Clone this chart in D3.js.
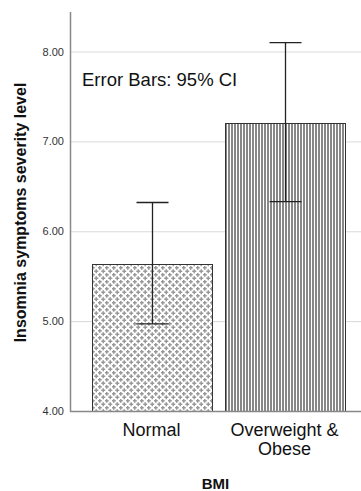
<!DOCTYPE html>
<html>
<head>
<meta charset="utf-8">
<script src="https://cdn.jsdelivr.net/npm/d3@7"></script>
<style>
  body { margin: 0; background: #fff; }
  svg { display: block; font-family: "Liberation Sans", Arial, sans-serif; }
</style>
</head>
<body>
<svg id="chart" width="361" height="491"></svg>
<script>
const categories = ['Normal', 'Overweight & Obese'];
const means = [5.64, 7.21];
const ciLow = [4.97, 6.33];
const ciHigh = [6.32, 8.10];
const yTicks = [4, 5, 6, 7, 8];

const svg = d3.select('#chart');
const margin = { top: 12, right: 0, bottom: 80, left: 70 };
const width = +svg.attr('width');
const height = +svg.attr('height');

const y = d3.scaleLinear()
  .domain([4, 8.44])
  .range([height - margin.bottom, margin.top]);

const x = d3.scaleBand()
  .domain(categories)
  .range([85, 351])
  .paddingInner(0.1)
  .paddingOuter(0.05);

// patterns
const defs = svg.append('defs');
const dots = defs.append('pattern')
  .attr('id', 'cross')
  .attr('patternUnits', 'userSpaceOnUse')
  .attr('width', 7).attr('height', 7);
dots.append('rect').attr('width', 7).attr('height', 7).attr('fill', '#fff');
// crosses, drawn with wrap-around copies so the tile repeats cleanly
[[1.75, 1.75], [5.25, 5.25], [5.25 - 7, 5.25], [5.25, 5.25 - 7], [5.25 - 7, 5.25 - 7]].forEach(([cx, cy]) => {
  dots.append('rect').attr('x', cx - 2).attr('y', cy - 0.75).attr('width', 4).attr('height', 1.5).attr('fill', '#999');
  dots.append('rect').attr('x', cx - 0.75).attr('y', cy - 2).attr('width', 1.5).attr('height', 4).attr('fill', '#999');
});
const stripes = defs.append('pattern')
  .attr('id', 'stripes')
  .attr('patternUnits', 'userSpaceOnUse')
  .attr('width', 3).attr('height', 3);
stripes.append('rect').attr('width', 3).attr('height', 3).attr('fill', '#fff');
stripes.append('rect').attr('width', 2).attr('height', 3).attr('fill', '#888');

// gridlines
svg.append('g')
  .selectAll('line')
  .data(yTicks.slice(1))
  .join('line')
    .attr('x1', margin.left).attr('x2', width)
    .attr('y1', d => y(d) + 0.5).attr('y2', d => y(d) + 0.5)
    .attr('stroke', '#d9d9d9');

// y tick labels
svg.append('g')
  .selectAll('text')
  .data(yTicks)
  .join('text')
    .attr('x', 64)
    .attr('y', d => y(d) + 4)
    .attr('text-anchor', 'end')
    .attr('font-size', 11)
    .attr('fill', '#333')
    .text(d => d3.format('.2f')(d));

// bars
svg.append('g')
  .selectAll('rect')
  .data(categories)
  .join('rect')
    .attr('x', d => Math.round(x(d)) + 0.5)
    .attr('y', (d, i) => Math.round(y(means[i])) + 0.5)
    .attr('width', Math.round(x.bandwidth()))
    .attr('height', (d, i) => Math.round(y(4)) - Math.round(y(means[i])))
    .attr('fill', (d, i) => i === 0 ? 'url(#cross)' : 'url(#stripes)')
    .attr('stroke', '#333')
    .attr('stroke-width', 1);

// axes lines
svg.append('line')
  .attr('x1', margin.left + 0.5).attr('x2', margin.left + 0.5)
  .attr('y1', margin.top).attr('y2', y(4) + 0.5)
  .attr('stroke', '#888').attr('stroke-width', 1.5);
svg.append('line')
  .attr('x1', margin.left).attr('x2', width)
  .attr('y1', y(4) + 0.5).attr('y2', y(4) + 0.5)
  .attr('stroke', '#888').attr('stroke-width', 1.5);

// error bars
const eb = svg.append('g').attr('stroke', '#222').attr('stroke-width', 1.3);
categories.forEach((c, i) => {
  const cx = Math.round(x(c) + x.bandwidth() / 2) + 0.5;
  eb.append('line').attr('x1', cx).attr('x2', cx).attr('y1', y(ciLow[i])).attr('y2', y(ciHigh[i]));
  [ciLow[i], ciHigh[i]].forEach(v => {
    eb.append('line').attr('x1', cx - 16).attr('x2', cx + 16).attr('y1', y(v)).attr('y2', y(v));
  });
});

// x tick labels
const xl = svg.append('g')
  .attr('font-size', 18)
  .attr('fill', '#111')
  .attr('text-anchor', 'middle');
xl.append('text')
  .attr('x', x('Normal') + x.bandwidth() / 2)
  .attr('y', 436)
  .text('Normal');
const ow = xl.append('text')
  .attr('x', x('Overweight & Obese') + x.bandwidth() / 2)
  .attr('y', 436);
ow.append('tspan').attr('x', x('Overweight & Obese') + x.bandwidth() / 2).text('Overweight &');
ow.append('tspan').attr('x', x('Overweight & Obese') + x.bandwidth() / 2).attr('dy', 19).text('Obese');

// axis titles
svg.append('text')
  .attr('x', (margin.left + width) / 2)
  .attr('y', 489)
  .attr('text-anchor', 'middle')
  .attr('font-size', 15)
  .attr('font-weight', 'bold')
  .attr('fill', '#111')
  .text('BMI');
svg.append('text')
  .attr('transform', `translate(26,${(82 + 343) / 2}) rotate(-90)`)
  .attr('text-anchor', 'middle')
  .attr('font-size', 16)
  .attr('font-weight', 'bold')
  .attr('fill', '#111')
  .text('Insomnia symptoms severity level');

// annotation
svg.append('text')
  .attr('x', 82)
  .attr('y', 86)
  .attr('font-size', 18.5)
  .attr('fill', '#111')
  .text('Error Bars: 95% CI');
</script>
</body>
</html>
